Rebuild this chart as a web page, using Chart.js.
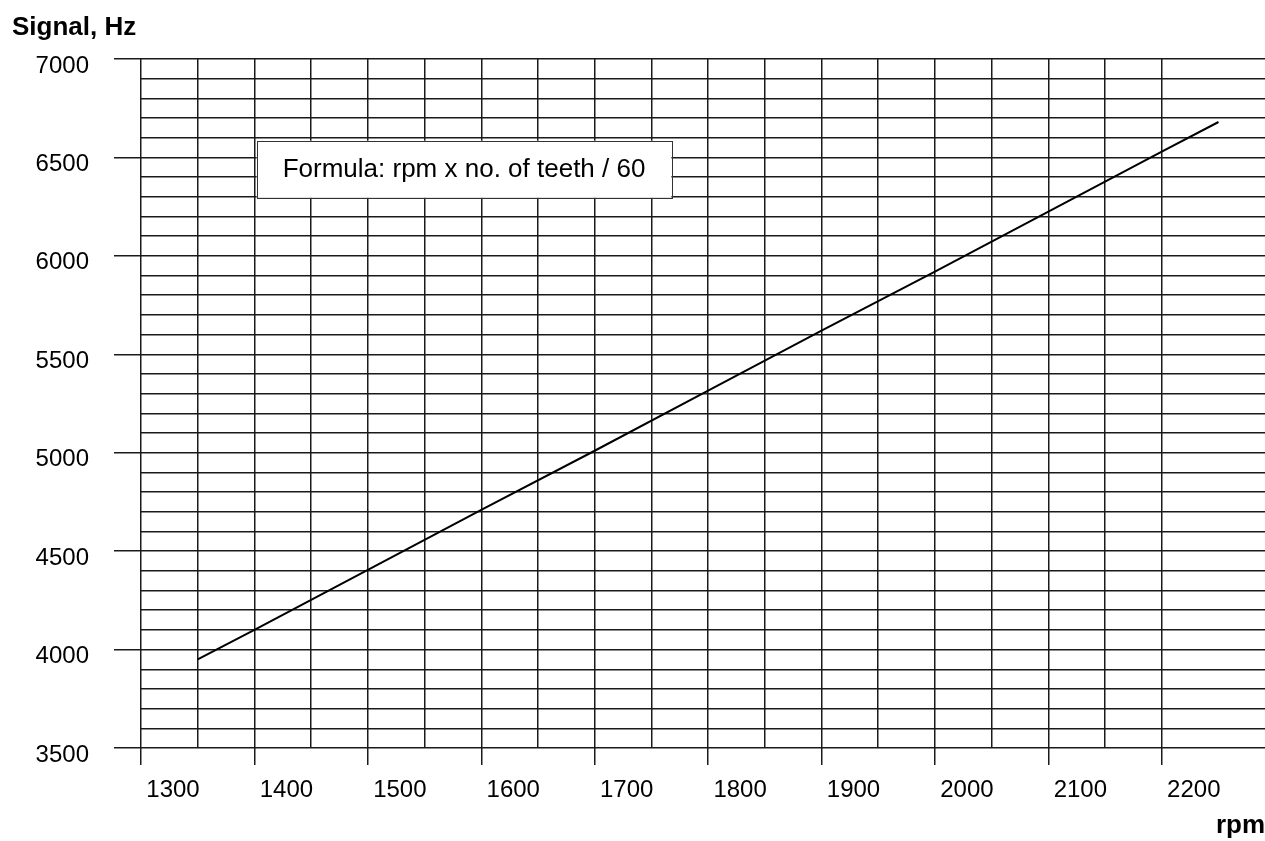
<!DOCTYPE html>
<html>
<head>
<meta charset="utf-8">
<script src="https://cdn.jsdelivr.net/npm/chart.js@4.4.1/dist/chart.umd.min.js"></script>
<style>
  html, body { margin: 0; padding: 0; background: #fff; }
  #wrap { width: 1265px; height: 841px; position: relative; }
</style>
</head>
<body>
<div id="wrap"><canvas id="myChart"></canvas></div>
<script>
// values
const rpmValues = [1350, 1400, 1500, 1600, 1700, 1800, 1900, 2000, 2100, 2200, 2250];
const signalValues = [3950, 4100, 4405, 4710, 5010, 5315, 5620, 5920, 6225, 6530, 6680];
const rpmRange = [1300, 2291];
const signalRange = [3500, 7000];
const yTitle = "Signal, Hz";
const xTitle = "rpm";
const noteText = "Formula: rpm x no. of teeth / 60";
const notePos = { x: 1402, y: 6440 }; // left edge, vertical centre (data units)

const gridColor = "#1a1a1a";
const fontFamily = "'Liberation Sans', Arial, sans-serif";
const tickFont = { family: fontFamily, size: 24 };

const extraText = {
  id: "extraText",
  afterDraw(chart) {
    const ctx = chart.ctx;
    const xs = chart.scales.x;
    const ys = chart.scales.y;
    ctx.save();
    // y axis title, horizontal at top-left
    ctx.font = "bold 26px " + fontFamily;
    ctx.fillStyle = "#000";
    ctx.textBaseline = "alphabetic";
    ctx.textAlign = "left";
    ctx.fillText(yTitle, 12, 35);

    // formula box
    ctx.font = "26px " + fontFamily;
    const w = ctx.measureText(noteText).width + 52;
    const h = 57;
    const left = xs.getPixelForValue(notePos.x);
    const mid = ys.getPixelForValue(notePos.y);
    ctx.fillStyle = "#fff";
    ctx.fillRect(left, mid - h / 2, w, h);
    ctx.strokeStyle = "#333";
    ctx.lineWidth = 1;
    ctx.strokeRect(Math.round(left) + 0.5, Math.round(mid - h / 2) + 0.5, Math.round(w), h);
    ctx.fillStyle = "#000";
    ctx.textAlign = "center";
    ctx.textBaseline = "middle";
    ctx.fillText(noteText, left + w / 2, mid + 1);
    ctx.restore();
  },
};

const ctx = document.getElementById("myChart");

new Chart(ctx, {
  type: "line",
  data: {
    datasets: [
      {
        data: rpmValues.map((r, i) => ({ x: r, y: signalValues[i] })),
        borderColor: "#000",
        borderWidth: 2,
        pointRadius: 0,
        pointHoverRadius: 0,
        pointBorderWidth: 0,
        tension: 0,
      },
    ],
  },
  options: {
    responsive: true,
    maintainAspectRatio: false,
    animation: false,
    layout: {
      autoPadding: false,
      padding: { top: 59, right: 0, left: 0, bottom: 0 },
    },
    plugins: {
      legend: { display: false },
      tooltip: { enabled: false },
    },
    scales: {
      x: {
        type: "linear",
        min: rpmRange[0],
        max: rpmRange[1],
        border: { display: false },
        grid: {
          color: (c) => (c.tick && c.tick.value % 50 === 0 ? gridColor : "transparent"),
          tickColor: (c) => (c.tick && c.tick.value % 100 === 0 ? gridColor : "transparent"),
          lineWidth: 1.5,
          tickLength: 17,
          drawTicks: true,
        },
        ticks: {
          stepSize: 50,
          autoSkip: false,
          maxRotation: 0,
          padding: 11,
          labelOffset: 32,
          color: "#000",
          font: tickFont,
          callback: function (value) {
            // только каждые 100 об/мин
            return value % 100 === 0 ? value : "";
          },
        },
        title: {
          display: true,
          text: xTitle,
          align: "end",
          color: "#000",
          font: { family: fontFamily, size: 26, weight: "bold" },
          padding: { top: 0, bottom: 0 },
        },
        afterFit: (scale) => {
          scale.height = 93;
          scale.paddingLeft = 0;
          scale.paddingRight = 0;
        },
      },
      y: {
        min: signalRange[0],
        max: signalRange[1],
        border: { display: false },
        grid: {
          color: gridColor,
          tickColor: (c) => (c.tick && c.tick.value % 500 === 0 ? gridColor : "transparent"),
          lineWidth: 1.5,
          tickLength: 27,
        },
        ticks: {
          stepSize: 100,
          autoSkip: false,
          padding: 25,
          labelOffset: 7,
          color: "#000",
          font: tickFont,
          callback: function (value) {
            return value % 500 === 0 ? value : "";
          },
        },
        afterFit: (scale) => {
          scale.width = 141;
        },
      },
    },
  },
  plugins: [extraText],
});
</script>
</body>
</html>
